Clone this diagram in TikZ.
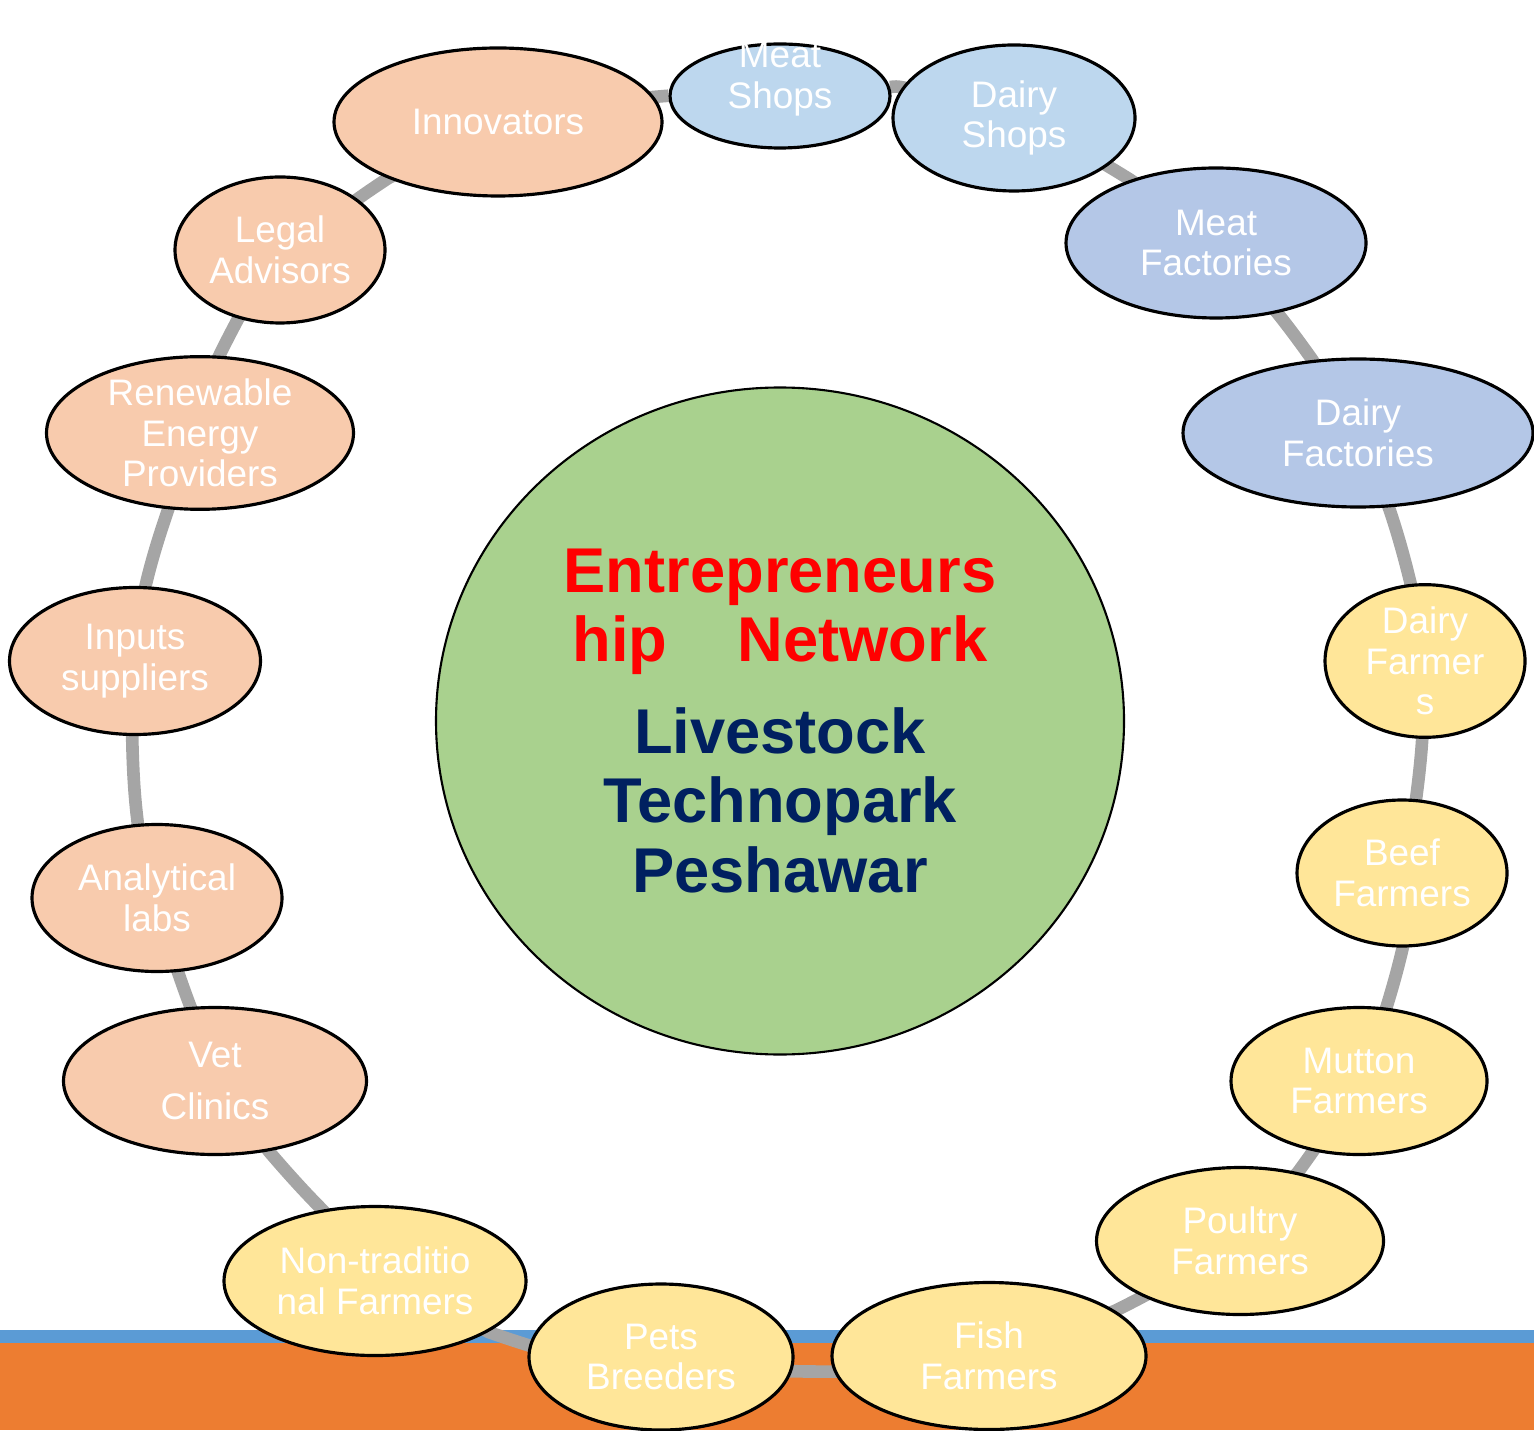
\documentclass[tikz,border=0pt]{standalone}
\usepackage{fontspec}
\setmainfont{Liberation Sans}
\usepackage{xcolor}
\usepackage{tikz}
\usetikzlibrary{shapes.geometric}
\usetikzlibrary{backgrounds}

\definecolor{hubgreen}{HTML}{A9D18E}
\definecolor{peach}{HTML}{F8CBAD}
\definecolor{farmyellow}{HTML}{FFE699}
\definecolor{shopblue}{HTML}{BDD7EE}
\definecolor{factoryblue}{HTML}{B4C7E7}
\definecolor{ringgray}{HTML}{A5A5A5}
\definecolor{bandblue}{HTML}{5B9BD5}
\definecolor{bandorange}{HTML}{ED7D31}
\definecolor{navy}{HTML}{002060}

\begin{document}
\begin{tikzpicture}[
        pill/.style={ellipse, draw=black, line width=0.9pt, inner sep=0pt, text=white, align=center, font=\fontsize{10.5}{11.5}\selectfont},
        support/.style={pill, fill=peach},
        farm/.style={pill, fill=farmyellow},
        shop/.style={pill, fill=shopblue},
        factory/.style={pill, fill=factoryblue},
        ring/.style={draw=ringgray, line width=3.6pt},
        bigtext/.style={align=center, font=\fontsize{18}{19.8}\selectfont\bfseries}]
        \useasboundingbox (0,0) rectangle (15.34,-14.30);

        % centre
        \node[ellipse, draw=black, line width=0.6pt, fill=hubgreen, minimum width=6.88cm, minimum height=6.67cm] (hub) at (7.80,-7.21) {};
        \node[bigtext, text=red] (network) at (7.80,-6.12) {Entrepreneurs\\hip\hspace{20pt}Network};
        \node[bigtext, text=navy] (park) at (7.80,-8.00) {Livestock\\Technopark\\Peshawar};

        % outer ring
        \node[shop, minimum width=2.20cm, minimum height=1.04cm, text height=7pt, text depth=0pt] (ms) at (7.80,-0.96) {Meat\\Shops};
        \node[shop, minimum width=2.42cm, minimum height=1.46cm] (ds) at (10.14,-1.18) {Dairy\\Shops};
        \node[factory, minimum width=3.00cm, minimum height=1.50cm] (mf) at (12.16,-2.43) {Meat\\Factories};
        \node[factory, minimum width=3.50cm, minimum height=1.48cm] (df) at (13.58,-4.33) {Dairy\\Factories};
        \node[farm, minimum width=2.00cm, minimum height=1.46cm] (dfa) at (14.25,-6.61) {Dairy\\Farmer\\s};
        \node[farm, minimum width=2.10cm, minimum height=1.46cm] (bf) at (14.02,-8.73) {Beef\\Farmers};
        \node[farm, minimum width=2.56cm, minimum height=1.47cm] (mfa) at (13.59,-10.81) {Mutton\\Farmers};
        \node[farm, minimum width=2.87cm, minimum height=1.47cm] (pf) at (12.40,-12.41) {Poultry\\Farmers};
        \node[farm, minimum width=3.14cm, minimum height=1.47cm] (ff) at (9.89,-13.56) {Fish\\Farmers};
        \node[farm, minimum width=2.64cm, minimum height=1.46cm] (pb) at (6.61,-13.57) {Pets\\Breeders};
        \node[farm, minimum width=3.02cm, minimum height=1.49cm] (ntf) at (3.75,-12.81) {Non-traditio\\nal Farmers};
        \node[support, minimum width=3.03cm, minimum height=1.47cm] (vc) at (2.15,-10.81) {Vet\\[3.4pt]Clinics};
        \node[support, minimum width=2.50cm, minimum height=1.47cm] (al) at (1.57,-8.98) {Analytical\\labs};
        \node[support, minimum width=2.51cm, minimum height=1.47cm] (is) at (1.35,-6.61) {Inputs\\suppliers};
        \node[support, minimum width=3.07cm, minimum height=1.48cm] (rep) at (2.00,-4.33) {Renewable\\Energy\\Providers};
        \node[support, minimum width=2.10cm, minimum height=1.46cm] (la) at (2.80,-2.50) {Legal\\Advisors};
        \node[support, minimum width=3.28cm, minimum height=1.48cm] (inn) at (4.98,-1.22) {Innovators};

        \node[anchor=base west, text=white, font=\fontsize{11}{12}\selectfont] (pageno) at (15.29,-14.00) {4};

        \begin{scope}[on background layer]
        \fill[bandblue] (0,-13.30) rectangle (15.34,-13.43);
        \fill[bandorange] (0,-13.43) rectangle (15.34,-14.30);
        \draw[ring] (ms) to[bend left=10] (ds) to[bend left=10] (mf) to[bend left=10] (df)
            to[bend left=10] (dfa) to[bend left=9] (bf) to[bend left=9] (mfa) to[bend left=8] (pf)
            to[bend left=11] (ff) to[bend left=12] (pb) to[bend left=12] (ntf) to[bend left=10] (vc)
            to[bend left=8] (al) to[bend left=10] (is) to[bend left=10] (rep) to[bend left=8] (la)
            to[bend left=10] (inn) to[bend left=12] (ms);
        \end{scope}
    \end{tikzpicture}
\end{document}
